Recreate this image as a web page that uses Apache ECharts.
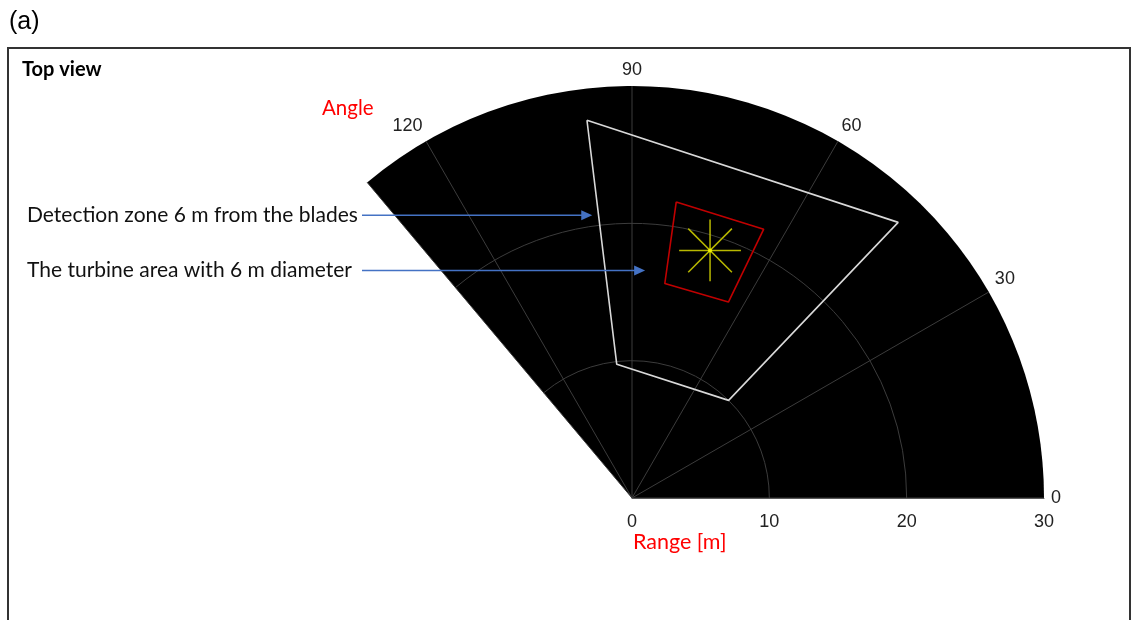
<!DOCTYPE html>
<html>
<head>
<meta charset="utf-8">
<script src="https://cdn.jsdelivr.net/npm/echarts@6/dist/echarts.min.js"></script>
<style>
  html, body { margin: 0; padding: 0; background: #fff; }
  #chart { width: 1132px; height: 620px; }
</style>
</head>
<body>
<div id="chart"></div>
<script>
// Range / angle extents of the top-view sector
const rangeMax = 30;          // m
const rangeStep = 10;         // m
const angleMin = 0;           // deg
const angleMax = 130;         // deg
const angleStep = 30;         // deg
const rangeRings = [10, 20];  // m, inner grid arcs

// Detection zone polygon, 6 m from the blades: [range m, angle deg]
const detectionZone = [[27.7, 96.8], [27.9, 46.0], [10.0, 45.3], [9.8, 96.5]];
// Turbine area polygon: [range m, angle deg]
const turbineArea = [[21.8, 81.5], [21.8, 63.9], [15.9, 63.8], [15.8, 81.3]];
// Turbine hub position and rotor star
const hubCenter = [18.9, 72.5];     // [range m, angle deg]
const hubRayLength = 2.25;          // m
const rayDirections = [0, 45, 90, 135]; // deg, each ray drawn through the hub

// Annotation texts and the points they point at: [range m, angle deg]
const annotations = [
  { text: 'Detection zone 6 m from the blades', target: [20.8, 98.0] },
  { text: 'The turbine area with 6 m diameter', target: [16.6, 86.7] }
];

const RAD = Math.PI / 180;
function closeRing(pts) { return pts.concat([pts[0]]); }

// rotor star segments (cartesian offsets around the hub, converted back to polar)
function raySegment(dirDeg) {
  const cx = hubCenter[0] * Math.cos(hubCenter[1] * RAD);
  const cy = hubCenter[0] * Math.sin(hubCenter[1] * RAD);
  const dx = hubRayLength * Math.cos(dirDeg * RAD);
  const dy = hubRayLength * Math.sin(dirDeg * RAD);
  const toPolar = (x, y) => [Math.sqrt(x * x + y * y), Math.atan2(y, x) / RAD];
  return [toPolar(cx - dx, cy - dy), toPolar(cx + dx, cy + dy)];
}

const tickFont = { fontFamily: 'Liberation Sans', fontSize: 18, color: '#222' };
const gridColor = '#3c3c3c';

const chart = echarts.init(document.getElementById('chart'), null, { renderer: 'canvas' });

// pixel radius of a range value along the polar scale
function pixelRadius(api, cs, v) {
  const p = api.coord([v, angleMin]);
  return Math.sqrt((p[0] - cs.cx) * (p[0] - cs.cx) + (p[1] - cs.cy) * (p[1] - cs.cy));
}

const series = [
  // black sector background
  {
    type: 'custom', coordinateSystem: 'polar', silent: true, z: -2,
    data: [[rangeMax, angleMax]],
    renderItem: function (params, api) {
      const cs = params.coordSys;
      return {
        type: 'sector',
        shape: {
          cx: cs.cx, cy: cs.cy, r0: 0, r: pixelRadius(api, cs, api.value(0)),
          startAngle: -api.value(1) * RAD, endAngle: -angleMin * RAD, clockwise: true
        },
        style: { fill: '#000' }
      };
    }
  },
  // range grid arcs
  {
    type: 'custom', coordinateSystem: 'polar', silent: true, z: -1,
    data: rangeRings.map(function (r) { return [r, angleMax]; }),
    renderItem: function (params, api) {
      const cs = params.coordSys;
      return {
        type: 'arc',
        shape: {
          cx: cs.cx, cy: cs.cy, r: pixelRadius(api, cs, api.value(0)),
          startAngle: -api.value(1) * RAD, endAngle: -angleMin * RAD, clockwise: true
        },
        style: { stroke: gridColor, lineWidth: 1, fill: null }
      };
    }
  },
  {
    type: 'line', coordinateSystem: 'polar', name: 'detection',
    data: closeRing(detectionZone), symbol: 'none', silent: true,
    lineStyle: { color: '#d8d8d8', width: 1.6 }, z: 5
  },
  {
    type: 'line', coordinateSystem: 'polar', name: 'turbine',
    data: closeRing(turbineArea), symbol: 'none', silent: true,
    lineStyle: { color: '#c00000', width: 1.6 }, z: 5
  }
];
rayDirections.forEach(function (d) {
  series.push({
    type: 'line', coordinateSystem: 'polar',
    data: raySegment(d), symbol: 'none', silent: true,
    lineStyle: { color: '#b8b800', width: 1.5 }, z: 6
  });
});
series.push({
  type: 'scatter', coordinateSystem: 'polar',
  data: [hubCenter], symbol: 'circle', symbolSize: 4, silent: true,
  itemStyle: { color: '#ffff00' }, z: 7
});

chart.setOption({
  animation: false,
  polar: { center: [632, 498], radius: 412 },
  angleAxis: {
    type: 'value', min: angleMin, max: angleMax, interval: angleStep,
    startAngle: angleMin, endAngle: angleMax, clockwise: false,
    axisLine: { show: false },
    axisTick: { show: false },
    axisLabel: Object.assign({
      margin: 7,
      formatter: function (v) { return v % angleStep === 0 ? String(v) : ''; }
    }, tickFont),
    splitLine: { show: true, lineStyle: { color: gridColor, width: 1 } }
  },
  radiusAxis: {
    type: 'value', min: 0, max: rangeMax, interval: rangeStep,
    axisLine: { show: true, lineStyle: { color: '#5a5a5a', width: 1 } },
    axisTick: { show: false },
    // labels sit below the 0° edge
    axisLabel: Object.assign({ margin: -15, verticalAlign: 'top', align: 'center' }, tickFont),
    splitLine: { show: false },
    splitArea: { show: false }
  },
  series: series
});

// Frame, titles and annotation arrows
const textFont = 'Lato';
const arrowColor = '#4472c4';
const graphics = [
  { type: 'text', left: 9, top: 10, style: { text: '(a)', font: '25px "Liberation Sans"', fill: '#000' } },
  { type: 'rect', shape: { x: 8, y: 48, width: 1122, height: 600 }, style: { fill: 'none', stroke: '#333', lineWidth: 2 }, z: -3 },
  { type: 'text', left: 22, top: 60, style: { text: 'Top view', font: 'bold 20px ' + textFont, fill: '#000' } },
  { type: 'text', left: 322, top: 98, style: { text: 'Angle', font: '20.5px ' + textFont, fill: '#ff0000' } },
  { type: 'text', left: 633, top: 531, style: { text: 'Range [m]', font: '21.5px ' + textFont, fill: '#ff0000' } }
];
annotations.forEach(function (a) {
  const tip = chart.convertToPixel({ seriesIndex: 2 }, a.target);
  const y = tip[1];
  graphics.push({ type: 'text', x: 27, y: y, style: { text: a.text, font: '21px ' + textFont, fill: '#111', verticalAlign: 'middle' } });
  graphics.push({ type: 'line', shape: { x1: 362, y1: y, x2: tip[0] - 9, y2: y }, style: { stroke: arrowColor, lineWidth: 1.5 }, z: 10 });
  graphics.push({ type: 'polygon', shape: { points: [[tip[0], y], [tip[0] - 11, y - 5], [tip[0] - 11, y + 5]] }, style: { fill: arrowColor }, z: 10 });
});
chart.setOption({ graphic: graphics });
</script>
</body>
</html>
